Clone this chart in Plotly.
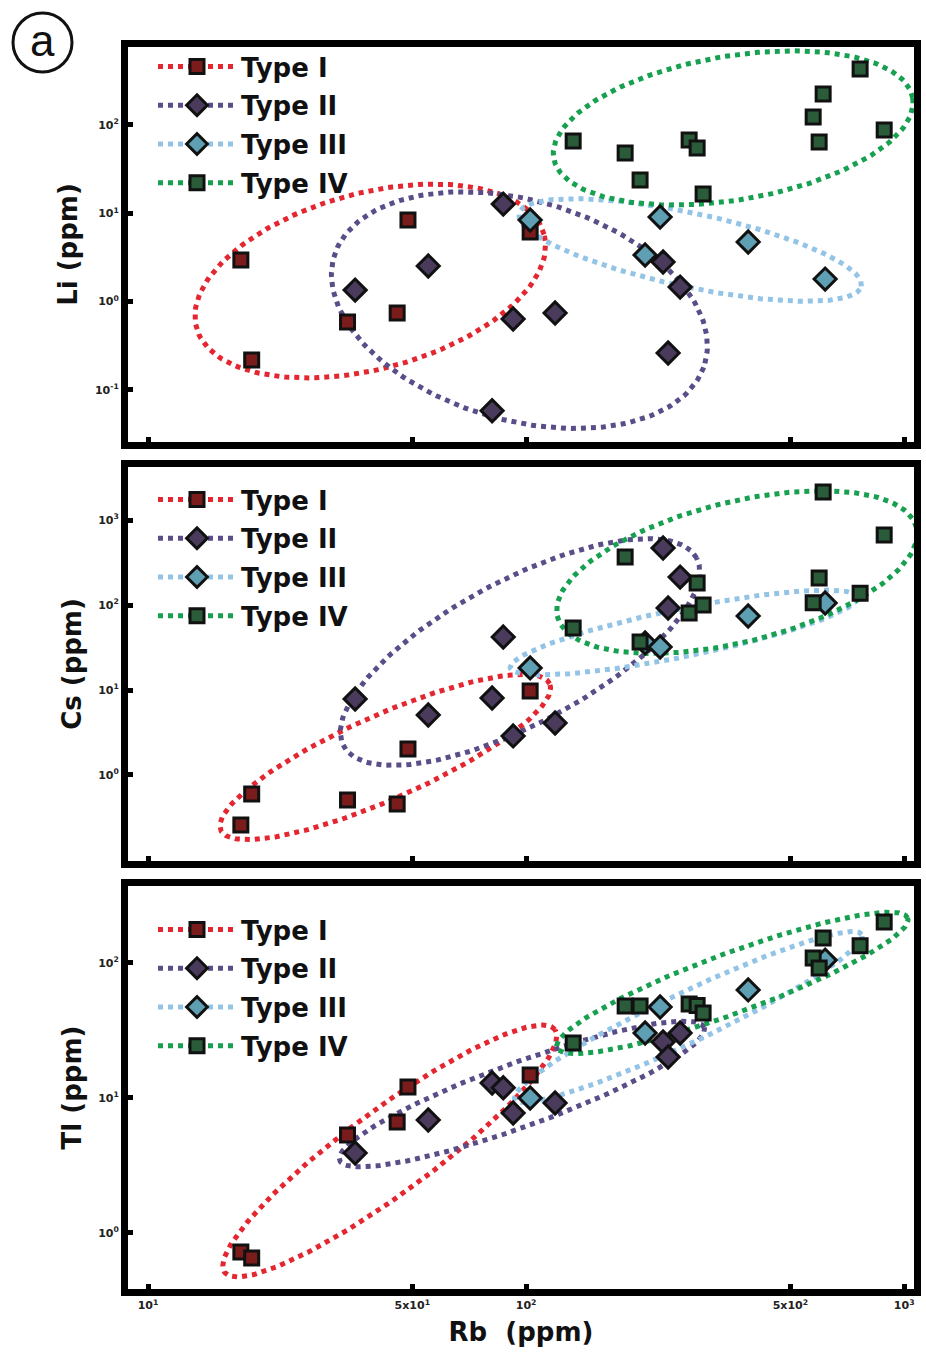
import numpy as np
import plotly.graph_objects as go

# ---------------- data ----------------
TYPES = ["Type I", "Type II", "Type III", "Type IV"]

# Rb (ppm) of each sample, shared by the three panels
rb_I = [17.6, 18.8, 33.7, 45.6, 48.7, 102.5]
rb_II = [35.3, 55.1, 81.3, 87.0, 92.4, 119.3, 230.3, 237.5, 255.5]
rb_III = [102.5, 206.4, 226.2, 386.7, 618.0]
rb_IV = [133.2, 182.8, 200.2, 269.9, 283.4, 293.9, 574.5, 595.8, 610.5, 764.7, 885.4]

# Li (ppm)
li_I = [2.96, 0.218, 0.587, 0.743, 8.4, 6.14]
li_II = [1.35, 2.53, 0.058, 12.7, 0.635, 0.743, 2.81, 0.262, 1.46]
li_III = [8.39, 3.37, 9.08, 4.73, 1.80]
li_IV = [65.9, 48.2, 23.8, 67.6, 54.9, 16.5, 123, 64.2, 224, 431, 87.8]

# Cs (ppm)
cs_I = [0.258, 0.597, 0.508, 0.456, 2.02, 9.73]
cs_II = [7.83, 5.08, 8.05, 42.0, 2.88, 4.09, 469, 92.2, 213]
cs_III = [18.2, 35.7, 32.1, 74.2, 105.6]
cs_IV = [53.6, 367, 36.7, 80.5, 181, 100, 106, 208, 2135, 138, 666]

# Tl (ppm)
tl_I = [0.723, 0.653, 5.32, 6.64, 12.06, 14.8]
tl_II = [3.91, 6.87, 12.9, 11.9, 7.74, 9.18, 26.0, 20.1, 30.3]
tl_III = [10.0, 30.3, 47.2, 63.1, 105]
tl_IV = [25.5, 48.0, 48.0, 49.7, 48.5, 42.6, 109, 91.8, 153, 134, 201]

RB = [rb_I, rb_II, rb_III, rb_IV]
PANELS = [
    ("Li (ppm)", [li_I, li_II, li_III, li_IV]),
    ("Cs (ppm)", [cs_I, cs_II, cs_III, cs_IV]),
    ("Tl (ppm)", [tl_I, tl_II, tl_III, tl_IV]),
]

# y tick values / labels per panel
Y_TICKVALS = [[0.1, 1, 10, 100], [1, 10, 100, 1000], [1, 10, 100]]
Y_TICKTEXT = [
    ["10<sup>-1</sup>", "10<sup>0</sup>", "10<sup>1</sup>", "10<sup>2</sup>"],
    ["10<sup>0</sup>", "10<sup>1</sup>", "10<sup>2</sup>", "10<sup>3</sup>"],
    ["10<sup>0</sup>", "10<sup>1</sup>", "10<sup>2</sup>"],
]
X_TICKVALS = [10, 50, 100, 500, 1000]
X_TICKTEXT = ["10<sup>1</sup>", "5x10<sup>1</sup>", "10<sup>2</sup>", "5x10<sup>2</sup>", "10<sup>3</sup>"]

# group envelopes: (type index, centre Rb, centre y, semi-axis a, semi-axis b [px], screen angle deg)
ELLIPSES = [
    [(0, 38.7, 1.71, 180, 88, 15), (1, 96.0, 0.80, 193, 110, -16),
     (2, 271.6, 3.84, 175, 37, -12), (3, 353, 92.5, 182, 72, 9.5)],
    [(0, 42.4, 1.63, 180, 42, 24), (1, 96.4, 28.0, 200, 72, 28),
     (2, 261, 47.5, 177, 24, 11.5), (3, 361, 244, 185, 70, 14)],
    [(0, 43.6, 4.05, 205, 42, 36.3), (1, 97.5, 10.7, 194, 32, 20),
     (2, 268.5, 39.8, 192, 25, 25.4), (3, 351, 71.1, 187, 30, 20.3)],
]

# ---------------- styling ----------------
W, H = 926, 1360
X_PX = (128, 914)
Y_PX = [(47, 442), (467, 861), (886, 1289)]
LEGEND_TOP_PX = [43, 476, 906]
XR = [0.947, 3.026]
YRS = [[-1.590, 2.883], [-1.012, 3.624], [-0.415, 2.570]]

LINE_COL = ["#e3262f", "#5a4d88", "#93c4e6", "#17a050"]
MK_SYM = ["square", "diamond", "diamond", "square"]
MK_FILL = ["#7a1c1c", "#4a3a5c", "#5f9fb3", "#2b5c3a"]
MK_SIZE = [14, 17, 17, 14]
FONT = "DejaVu Sans"

fig = go.Figure()

sx = (X_PX[1] - X_PX[0]) / (XR[1] - XR[0])
t = np.linspace(0, 2 * np.pi, 240)

for p, (ytitle, ys) in enumerate(PANELS):
    xa = "x" if p == 0 else f"x{p+1}"
    ya = "y" if p == 0 else f"y{p+1}"
    lg = "legend" if p == 0 else f"legend{p+1}"
    sy = (Y_PX[p][1] - Y_PX[p][0]) / (YRS[p][1] - YRS[p][0])
    # envelopes
    for (ti, cx, cy, a, b, ang) in ELLIPSES[p]:
        th = np.radians(ang)
        dx = a * np.cos(t) * np.cos(th) - b * np.sin(t) * np.sin(th)
        dy = a * np.cos(t) * np.sin(th) + b * np.sin(t) * np.cos(th)
        ex = 10 ** (np.log10(cx) + dx / sx)
        ey = 10 ** (np.log10(cy) + dy / sy)
        fig.add_trace(go.Scatter(x=ex, y=ey, mode="lines", xaxis=xa, yaxis=ya,
                                 line=dict(color=LINE_COL[ti], width=5, dash="dot"),
                                 hoverinfo="skip", showlegend=False))
    # points
    for ti in range(4):
        fig.add_trace(go.Scatter(
            x=RB[ti], y=ys[ti], mode="markers", xaxis=xa, yaxis=ya,
            marker=dict(symbol=MK_SYM[ti], size=MK_SIZE[ti], color=MK_FILL[ti],
                        line=dict(color="#111111", width=3)),
            showlegend=False))
    # legend entries
    for ti in range(4):
        fig.add_trace(go.Scatter(
            x=[None], y=[None], mode="lines+markers", xaxis=xa, yaxis=ya,
            name=TYPES[ti], legend=lg, legendgroup=f"{p}-{ti}",
            line=dict(color=LINE_COL[ti], width=5, dash="dot"),
            marker=dict(symbol=MK_SYM[ti], size=MK_SIZE[ti], color=MK_FILL[ti],
                        line=dict(color="#111111", width=3))))

layout = dict(
    width=W, height=H, margin=dict(l=0, r=0, t=0, b=0),
    paper_bgcolor="white", plot_bgcolor="white", hovermode=False,
)
tickfont = dict(family=FONT, size=11, color="#222222", weight="bold")
for p in range(3):
    xk = "xaxis" if p == 0 else f"xaxis{p+1}"
    yk = "yaxis" if p == 0 else f"yaxis{p+1}"
    ya = "y" if p == 0 else f"y{p+1}"
    xa = "x" if p == 0 else f"x{p+1}"
    ydom = [1 - Y_PX[p][1] / H, 1 - Y_PX[p][0] / H]
    layout[xk] = dict(
        type="log", range=XR, domain=[X_PX[0] / W, X_PX[1] / W], anchor=ya,
        showline=True, linewidth=7, linecolor="black", mirror=True,
        showgrid=False, zeroline=False,
        ticks="inside", ticklen=5, tickwidth=5, tickcolor="black",
        tickvals=X_TICKVALS, ticktext=X_TICKTEXT,
        showticklabels=(p == 2), tickfont=tickfont,
    )
    if p == 2:
        layout[xk]["title"] = dict(text="Rb  (ppm)", standoff=14,
                                   font=dict(family=FONT, size=26, color="#111", weight="bold"))
    layout[yk] = dict(
        type="log", range=YRS[p], domain=ydom, anchor=xa,
        showline=True, linewidth=7, linecolor="black", mirror=True,
        showgrid=False, zeroline=False,
        ticks="inside", ticklen=5, tickwidth=5, tickcolor="black",
        tickvals=Y_TICKVALS[p], ticktext=Y_TICKTEXT[p], tickfont=tickfont,
        title=dict(text=PANELS[p][0], standoff=12,
                   font=dict(family=FONT, size=26, color="#111", weight="bold")),
    )
    lk = "legend" if p == 0 else f"legend{p+1}"
    layout[lk] = dict(
        x=153 / W, y=1 - LEGEND_TOP_PX[p] / H, xanchor="left", yanchor="top",
        bgcolor="rgba(0,0,0,0)", itemwidth=78, tracegroupgap=2,
        font=dict(family=FONT, size=26, color="#111", weight="bold"),
        itemclick=False, itemdoubleclick=False,
    )

fig.update_layout(**layout)

# circled panel label
fig.add_shape(type="circle", xref="paper", yref="paper",
              x0=13 / W, x1=72 / W, y0=1 - 72 / H, y1=1 - 13 / H,
              line=dict(color="#111", width=3))
fig.add_annotation(text="a", xref="paper", yref="paper", x=42.5 / W, y=1 - 40 / H,
                   xanchor="center", yanchor="middle", showarrow=False,
                   font=dict(family="Liberation Sans, Arial, sans-serif", size=44, color="#111"))

fig.write_html("out.html")
